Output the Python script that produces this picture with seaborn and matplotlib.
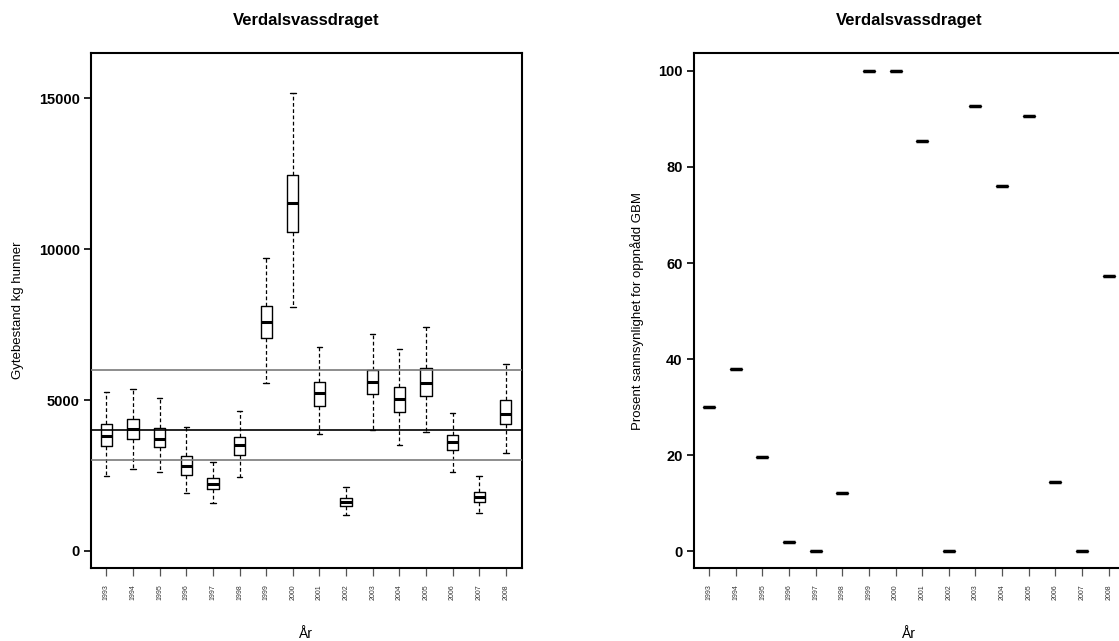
"""
Verdalsvassdraget: gytebestand per år (boksplott) og prosent sannsynlighet
for oppnådd gytebestandsmål (GBM).
"""
import numpy as np
import pandas as pd
import matplotlib.pyplot as plt
import seaborn as sns

YEARS = [1993, 1994, 1995, 1996, 1997, 1998, 1999, 2000,
         2001, 2002, 2003, 2004, 2005, 2006, 2007, 2008]

# Gytebestand kg hunner: whisker min, Q1, median, Q3, whisker max
WHISK_LO = [2470, 2715, 2615, 1930, 1580, 2440, 5575, 8090,
            3865, 1205, 4020, 3500, 3930, 2615, 1260, 3235]
Q1 = [3465, 3710, 3435, 2505, 2055, 3190, 7040, 10575,
      4800, 1490, 5210, 4590, 5135, 3355, 1625, 4195]
MEDIAN = [3810, 4040, 3720, 2815, 2220, 3500, 7585, 11525,
          5220, 1610, 5585, 5035, 5565, 3600, 1790, 4545]
Q3 = [4215, 4370, 4085, 3135, 2405, 3775, 8125, 12470,
      5585, 1745, 5980, 5440, 6070, 3850, 1965, 4990]
WHISK_HI = [5275, 5355, 5075, 4115, 2935, 4625, 9690, 15175,
            6755, 2130, 7195, 6675, 7415, 4570, 2470, 6205]

# Gytebestandsmål: nedre, midt, øvre
GBM_LEVELS = [3000, 4000, 6000]

# Prosent sannsynlighet for oppnådd GBM
PROB_GBM = [30.0, 38.0, 19.5, 1.8, 0.0, 12.1, 100.0, 100.0,
            85.5, 0.0, 92.6, 76.1, 90.6, 14.4, 0.0, 57.3]

TITLE = "Verdalsvassdraget"


def box_frame():
    # five points per year -> quartiles fall exactly on the given values
    rows = []
    for i, yr in enumerate(YEARS):
        for v in (WHISK_LO[i], Q1[i], MEDIAN[i], Q3[i], WHISK_HI[i]):
            rows.append({"year": str(yr), "kg": v})
    return pd.DataFrame(rows)


def style_axes(ax, yticks):
    for s in ax.spines.values():
        s.set_linewidth(1.5)
        s.set_color("black")
    ax.set_xlim(-0.58, 15.6)
    ax.set_yticks(yticks)
    ax.set_yticklabels([str(t) for t in yticks], fontsize=10.5,
                       fontweight="bold", color="black")
    ax.tick_params(axis="y", direction="out", left=True, length=5,
                   width=1.2, color="black", pad=3)
    ax.tick_params(axis="x", direction="out", bottom=True, length=6,
                   width=0.9, color="#555555", labelsize=5, labelcolor="#333333",
                   labelrotation=90, pad=6)
    ax.set_xlabel("År", fontsize=10, labelpad=19, color="black")
    ax.set_title(TITLE, fontsize=12, fontweight="bold", pad=20, color="black")


def main():
    sns.set_style("ticks")
    plt.rcParams["font.family"] = ["Liberation Sans", "DejaVu Sans"]

    fig = plt.figure(figsize=(11.19, 6.41), dpi=100)
    ax1 = fig.add_axes([0.0813, 0.114, 0.385, 0.803])
    ax2 = fig.add_axes([0.620, 0.114, 0.385, 0.803])

    df = box_frame()
    sns.boxplot(data=df, x="year", y="kg", whis=np.inf, width=0.42,
                fill=False, color="black", linewidth=1.0,
                whiskerprops=dict(linestyle=(0, (3, 2)), linewidth=0.9),
                capprops=dict(linewidth=1.0),
                medianprops=dict(linewidth=2.2),
                ax=ax1)
    for lvl, col in zip(GBM_LEVELS, ["#7a7a7a", "black", "#7a7a7a"]):
        ax1.axhline(lvl, color=col, linewidth=1.2, zorder=3)
    ax1.set_ylim(-563, 16490)
    style_axes(ax1, [0, 5000, 10000, 15000])
    ax1.set_ylabel("Gytebestand kg hunner", fontsize=9.5, labelpad=11,
                   color="black")

    df2 = pd.DataFrame({"year": [str(y) for y in YEARS], "prob": PROB_GBM})
    sns.boxplot(data=df2, x="year", y="prob", width=0.45,
                fill=False, color="black", linewidth=1.0,
                medianprops=dict(linewidth=2.5),
                ax=ax2)
    ax2.set_ylim(-3.5, 103.7)
    style_axes(ax2, [0, 20, 40, 60, 80, 100])
    ax2.set_ylabel("Prosent sannsynlighet for oppnådd GBM", fontsize=9.5,
                   labelpad=10, color="black")

    fig.savefig("out.png", dpi=100)
    plt.close(fig)


if __name__ == "__main__":
    main()
